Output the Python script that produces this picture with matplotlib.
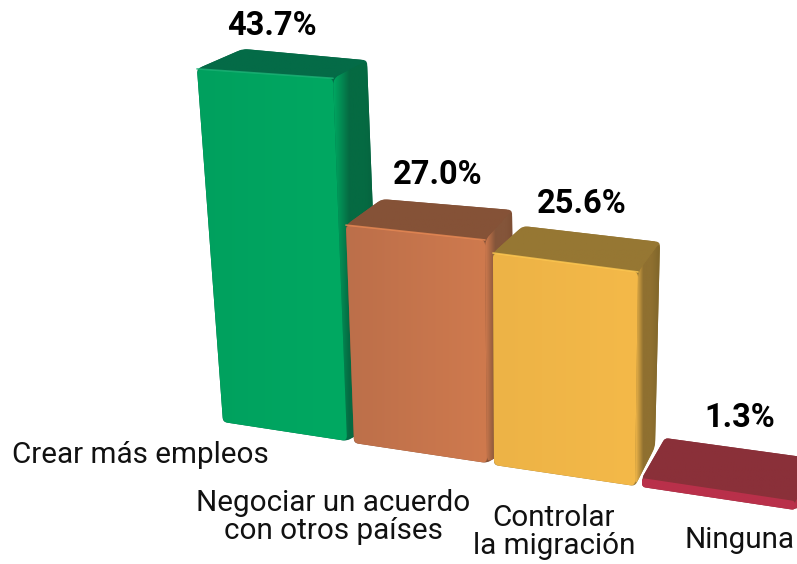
import numpy as np
import matplotlib
matplotlib.use("Agg")
import matplotlib.pyplot as plt
from matplotlib.colors import LinearSegmentedColormap
from matplotlib.patches import PathPatch
from matplotlib.path import Path

plt.rcParams['font.family'] = ['Roboto', 'DejaVu Sans']

categories = ["Crear más empleos", "Negociar un acuerdo\ncon otros países",
              "Controlar\nla migración", "Ninguna"]
values = [43.7, 27.0, 25.6, 1.3]
front_left = ["#00A05E", "#BC6F4A", "#EDB346", "#B9304A"]
front_right = ["#00A962", "#CF7A4E", "#F4B949", "#B9304A"]
top_colors = ["#046B47", "#855237", "#967733", "#8A3039"]
side_left = ["#056A42", "#84553A", "#8F7030", "#8A3039"]
side_right = ["#055C3A", "#7A4C32", "#80662A", "#8A3039"]
edge_colors = ["#1DB377", "#E98A55", "#FFC952", "#8A3039"]

# perspective layout, in pixels of the picture
base_left = [(223, 422), (354, 443), (494, 465), (642, 487)]
base_right = [(347, 441), (487, 463), (635, 486), (795, 510)]
px_per_unit = [(8.08, 8.30), (8.07, 8.26), (8.28, 8.36), (6.9, 6.9)]
lean = [(-0.0737, -0.0386), (-0.037, -0.009), (-0.005, 0.014), (0.0, 0.0)]
top_depth = [((46, -20), (34, -18)), ((36, -26), (27, -30)),
             ((30, -27), (22, -30)), ((23, -40), (37, -40))]
base_depth = [(34, -21), (28, -18), (20, -39), (37, -40)]
label_pos = [(272, 26), (438, 175), (582, 204), (740, 418)]
cat_pos = [(12, 455, 'left'), (333, 517, 'center'), (554, 532, 'center'), (795, 540, 'right')]


def rounded(points, r):
    # closed path with the corners cut by small curves
    pts = np.array(points, dtype=float)
    n = len(pts)
    verts, codes = [], []
    for i in range(n):
        p, prev, nxt = pts[i], pts[i - 1], pts[(i + 1) % n]
        a = p + (prev - p) / np.linalg.norm(prev - p) * r
        b = p + (nxt - p) / np.linalg.norm(nxt - p) * r
        verts += [a, p, b]
        codes += [Path.MOVETO if i == 0 else Path.LINETO, Path.CURVE3, Path.CURVE3]
    verts.append(verts[0])
    codes.append(Path.CLOSEPOLY)
    return Path(verts, codes)


def shaded(ax, points, colors, r=6, zorder=1):
    path = rounded(points, r)
    cmap = LinearSegmentedColormap.from_list("f", colors)
    xs = [p[0] for p in points]
    ys = [p[1] for p in points]
    im = ax.imshow(np.linspace(0, 1, 64).reshape(1, -1), cmap=cmap, aspect='auto',
                   extent=(min(xs), max(xs), max(ys), min(ys)), zorder=zorder)
    patch = PathPatch(path, transform=ax.transData, fc='none', ec='none')
    ax.add_patch(patch)
    im.set_clip_path(patch)


fig = plt.figure(figsize=(7.97, 5.64), dpi=100)
ax = fig.add_axes([0, 0, 1, 1])

for i in range(len(values)):
    bl, br = base_left[i], base_right[i]
    hl = values[i] * px_per_unit[i][0]
    hr = values[i] * px_per_unit[i][1]
    tl = (bl[0] + lean[i][0] * hl, bl[1] - hl)
    tr = (br[0] + lean[i][1] * hr, br[1] - hr)
    back_l = (tl[0] + top_depth[i][0][0], tl[1] + top_depth[i][0][1])
    back_r = (tr[0] + top_depth[i][1][0], tr[1] + top_depth[i][1][1])
    side_b = (br[0] + base_depth[i][0], br[1] + base_depth[i][1])
    r = 3 if i == 3 else 7
    z = 1 + i
    # silhouette underneath, so no white shows where the rounded faces meet
    shaded(ax, [tl, back_l, back_r, side_b, br, bl], [top_colors[i], top_colors[i]], r=4, zorder=z)
    shaded(ax, [tr, back_r, side_b, br], [front_right[i], side_left[i], side_left[i], side_right[i]],
           r=r, zorder=z)
    shaded(ax, [tl, back_l, back_r, tr], [top_colors[i], top_colors[i]], r=r, zorder=z)
    shaded(ax, [tl, tr, br, bl], [front_left[i], front_right[i]], r=3 if i == 3 else 5, zorder=z)
    if i < 3:
        ax.plot([tl[0], tr[0]], [tl[1], tr[1]], color=edge_colors[i], lw=1.2,
                alpha=0.8, zorder=z, solid_capstyle='round')

    ax.text(label_pos[i][0], label_pos[i][1], "%.1f%%" % values[i], ha='center', va='center',
            fontsize=23.5, fontweight='bold', color='black', zorder=10)
    ax.text(cat_pos[i][0], cat_pos[i][1], categories[i], ha=cat_pos[i][2], va='center',
            fontsize=21.3, linespacing=0.97, color='#111111', zorder=10)

ax.set_xlim(0, 797)
ax.set_ylim(564, 0)
ax.axis('off')
fig.savefig("out.png", dpi=100)
